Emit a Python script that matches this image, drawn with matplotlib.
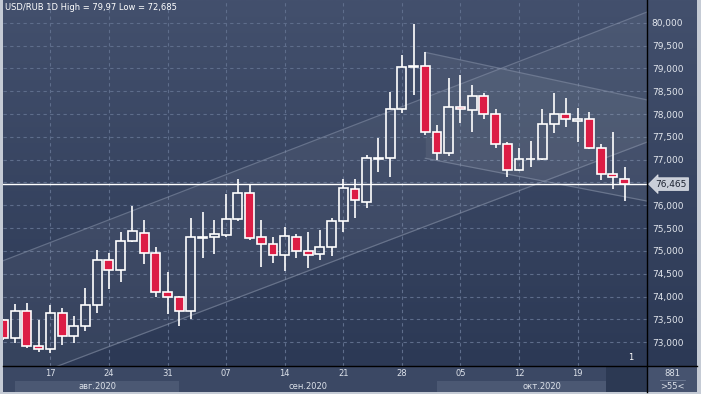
import matplotlib
matplotlib.use('Agg')
import matplotlib.pyplot as plt
import matplotlib.transforms as mtransforms
import numpy as np
from matplotlib.colors import LinearSegmentedColormap
from matplotlib.patches import Rectangle
from matplotlib.lines import Line2D

# daily candles, USD/RUB, 11 Aug - 23 Oct 2020
dates = ['08-11', '08-12', '08-13', '08-14',
         '08-17', '08-18', '08-19', '08-20', '08-21',
         '08-24', '08-25', '08-26', '08-27', '08-28',
         '08-31', '09-01', '09-02', '09-03', '09-04',
         '09-07', '09-08', '09-09', '09-10', '09-11',
         '09-14', '09-15', '09-16', '09-17', '09-18',
         '09-21', '09-22', '09-23', '09-24', '09-25',
         '09-28', '09-29', '09-30', '10-01', '10-02',
         '10-05', '10-06', '10-07', '10-08', '10-09',
         '10-12', '10-13', '10-14', '10-15', '10-16',
         '10-19', '10-20', '10-21', '10-22', '10-23']
opens = [73.49, 73.09, 73.69, 72.91,
         72.85, 73.65, 73.14, 73.35, 73.81,
         74.80, 74.59, 75.21, 75.39, 74.95,
         74.10, 73.99, 73.69, 75.28, 75.31,
         75.34, 75.69, 76.26, 75.30, 75.15,
         74.91, 75.31, 74.99, 74.93, 75.08,
         75.65, 76.35, 76.08, 77.03, 77.03,
         78.10, 79.04, 79.06, 77.61, 77.14,
         78.16, 78.09, 78.39, 77.99, 77.34,
         76.77, 77.01, 77.01, 77.78, 77.99,
         77.84, 77.88, 77.26, 76.69, 76.58]
highs = [73.52, 73.83, 73.85, 73.49,
         73.82, 73.76, 73.58, 74.19, 75.02,
         74.95, 75.42, 75.99, 75.68, 75.08,
         74.55, 74.01, 75.72, 75.85, 75.68,
         76.25, 76.58, 76.47, 75.68, 75.31,
         75.52, 75.37, 75.42, 75.46, 75.73,
         76.58, 76.58, 77.10, 77.48, 78.49,
         79.29, 79.97, 79.35, 77.76, 78.78,
         78.85, 78.64, 78.47, 78.10, 77.39,
         77.26, 77.41, 78.10, 78.45, 78.34,
         78.13, 78.05, 77.34, 77.60, 76.85]
lows = [73.05, 72.99, 72.87, 72.79,
        72.77, 72.93, 72.99, 73.24, 73.65,
        74.16, 74.31, 75.20, 74.72, 74.00,
        73.61, 73.36, 73.50, 74.85, 74.93,
        75.30, 75.66, 75.24, 74.66, 74.74,
        74.57, 74.84, 74.63, 74.80, 74.88,
        75.42, 75.72, 75.94, 76.74, 76.63,
        78.02, 78.42, 77.54, 76.99, 77.07,
        77.80, 77.60, 77.88, 77.26, 76.63,
        76.75, 76.85, 77.00, 77.59, 77.72,
        77.39, 77.23, 76.56, 76.35, 76.10]
closes = [73.09, 73.69, 72.92, 72.85,
          73.65, 73.14, 73.35, 73.81, 74.80,
          74.58, 75.21, 75.43, 74.96, 74.10,
          73.99, 73.69, 75.30, 75.30, 75.37,
          75.69, 76.26, 75.28, 75.15, 74.91,
          75.32, 75.00, 74.91, 75.08, 75.65,
          76.37, 76.12, 77.03, 77.04, 78.10,
          79.04, 79.06, 77.61, 77.14, 78.16,
          78.11, 78.39, 77.99, 77.34, 76.77,
          77.01, 77.02, 77.78, 77.99, 77.88,
          77.88, 77.26, 76.68, 76.61, 76.465]

week_ticks = [4, 9, 14, 19, 24, 29, 34, 39, 44, 49]
week_labels = ['17', '24', '31', '07', '14', '21', '28', '05', '12', '19']
month_names = ['авг.2020', 'сен.2020', 'окт.2020']
month_starts = [1, 15, 37]
price_ticks = np.arange(73.0, 80.01, 0.5)
last_price = 76.465
title = 'USD/RUB 1D High = 79,97 Low = 72,685'

# drawn channels (x in candle index, y in price)
up_x = [-1, 56]
up_top = [74.69, 80.34]
up_bot = [71.93, 77.49]
down_x = [36, 56]
down_top = [79.35, 78.25]
down_bot = [77.03, 76.04]

W, H = 701, 394
xmin, xmax = -0.04, 54.92
ymin, ymax = 72.481, 80.497

fig = plt.figure(figsize=(W / 100, H / 100), dpi=100, facecolor='#c5cbd5')

# gradient background behind plot + price scale
bg = fig.add_axes([3 / W, 28 / H, 694 / W, 366 / H])
grad = LinearSegmentedColormap.from_list('bg', ['#2c3955', '#43506d'])
bg.imshow(np.linspace(0, 1, 256)[:, None], cmap=grad, origin='lower',
          aspect='auto', extent=[0, 1, 0, 1])
bg.set_axis_off()

ax = fig.add_axes([3 / W, 28 / H, 644 / W, 366 / H])
ax.set_facecolor('none')
ax.set_xlim(xmin, xmax)
ax.set_ylim(ymin, ymax)
for s in ax.spines.values():
    s.set_visible(False)

ax.set_xticks(week_ticks)
ax.set_yticks(price_ticks)
ax.yaxis.tick_right()
ax.set_yticklabels(['' if abs(p - 76.5) < 1e-6 else f'{p:.3f}'.replace('.', ',')
                    for p in price_ticks])
ax.tick_params(axis='x', length=0, labelbottom=False)
ax.tick_params(axis='y', length=0, pad=3.5, labelsize=6.5, labelcolor='#e3e7ee')
ax.grid(True, color='#5e6d8b', linestyle=(0, (3, 3)), linewidth=0.8)
ax.set_axisbelow(True)

# channels
line_kw = dict(color='#8a95ab', lw=0.9, alpha=0.55, zorder=1.5)
ax.fill_between(up_x, up_bot, up_top, color='white', alpha=0.05, lw=0, zorder=1)
ax.plot(up_x, up_top, **line_kw)
ax.plot(up_x, up_bot, **line_kw)
ax.fill_between(down_x, down_bot, down_top, color='white', alpha=0.06, lw=0, zorder=1)
ax.plot(down_x, down_top, **line_kw)
ax.plot(down_x, down_bot, **line_kw)

# last price line
ax.axhline(last_price, color='white', lw=1, zorder=2)

# candles
bw = 0.76
for i in range(len(dates)):
    o, h, l, c = opens[i], highs[i], lows[i], closes[i]
    top, bot = max(o, c), min(o, c)
    if top - bot < 0.02:
        mid = (top + bot) / 2
        top, bot = mid + 0.01, mid - 0.01
    ax.vlines(i, top, h, color='white', lw=1.2, zorder=3)
    ax.vlines(i, l, bot, color='white', lw=1.2, zorder=3)
    face = '#dc1d45' if c < o else 'none'
    ax.add_patch(Rectangle((i - bw / 2, bot), bw, top - bot, facecolor=face,
                           edgecolor='white', lw=1.2, zorder=4))

ax.text(0.003, 0.993, title, transform=ax.transAxes, va='top', ha='left',
        fontsize=6, color='white')
ax.text(0.975, 0.022, '1', transform=ax.transAxes, va='center', ha='center',
        fontsize=6, color='white')

trans = mtransforms.blended_transform_factory(ax.transAxes, ax.transData)
ax.text(1.013, last_price, f'{last_price:.3f}'.replace('.', ','), transform=trans,
        ha='left', va='center', fontsize=6.5, color='#1c2230', clip_on=False, zorder=10,
        bbox=dict(boxstyle='larrow,pad=0.2', fc='#c9ced8', ec='#e6e9ee', lw=0.5))

# date scale
bax = fig.add_axes([3 / W, 2 / H, 644 / W, 26 / H])
bax.set_facecolor('#3b4864')
bax.set_xlim(xmin, xmax)
bax.set_ylim(0, 1)
bax.set_xticks([])
bax.set_yticks([])
for s in bax.spines.values():
    s.set_visible(False)
bounds = month_starts + [xmax]
for k, name in enumerate(month_names):
    x0, x1 = bounds[k], bounds[k + 1]
    if k != 1:
        bax.add_patch(Rectangle((x0, 0), x1 - x0, 0.44, color='#4b5873', lw=0))
    bax.text((x0 + x1) / 2, 0.2, name, ha='center', va='center',
             fontsize=6, color='#dde2ea')
bax.add_patch(Rectangle((51.4, 0), xmax - 51.4, 1, color='#2c3953', lw=0))
for t, lab in zip(week_ticks, week_labels):
    bax.text(t, 0.72, lab, ha='center', va='center', fontsize=6, color='#dde2ea')

# corner cell
cax = fig.add_axes([647 / W, 2 / H, 50 / W, 26 / H])
cax.set_facecolor('#46536f')
cax.set_xticks([])
cax.set_yticks([])
for s in cax.spines.values():
    s.set_visible(False)
cax.text(0.5, 0.72, '881', ha='center', va='center', fontsize=6, color='#dde2ea')
cax.text(0.5, 0.22, '>55<', ha='center', va='center', fontsize=6, color='#dde2ea')
cax.plot([0.25, 0.75], [0.47, 0.47], color='#6d7a93', lw=0.6)
cax.set_xlim(0, 1)
cax.set_ylim(0, 1)

# separators
fig.add_artist(Line2D([3 / W, 697 / W], [28 / H, 28 / H], color='black', lw=1))
fig.add_artist(Line2D([647 / W, 647 / W], [2 / H, 1], color='black', lw=1))

fig.savefig('out.png', dpi=100, facecolor=fig.get_facecolor())
